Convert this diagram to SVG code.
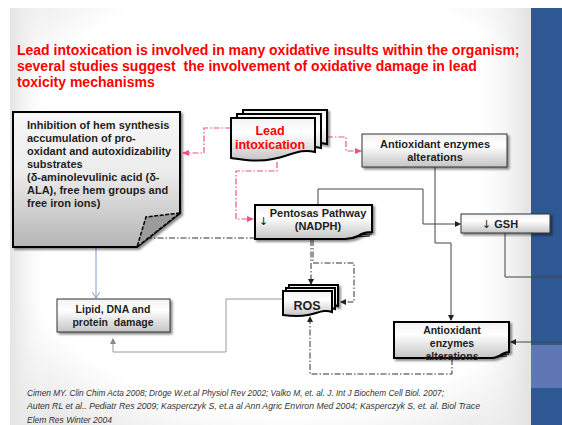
<svg xmlns="http://www.w3.org/2000/svg" width="562" height="425" viewBox="0 0 562 425">
<defs>
  <radialGradient id="bg" cx="0.5" cy="0.45" r="0.75">
    <stop offset="0" stop-color="#ffffff"/>
    <stop offset="0.7" stop-color="#ffffff"/>
    <stop offset="1" stop-color="#dcdcdc"/>
  </radialGradient>
  <linearGradient id="edgeR" x1="0" y1="0" x2="1" y2="0">
    <stop offset="0" stop-color="#ffffff" stop-opacity="0"/>
    <stop offset="1" stop-color="#e2e2e2"/>
  </linearGradient>
  <linearGradient id="edgeL" x1="0" y1="0" x2="1" y2="0">
    <stop offset="0" stop-color="#e4e4e4"/>
    <stop offset="1" stop-color="#ffffff" stop-opacity="0"/>
  </linearGradient>
  <linearGradient id="box" x1="0" y1="0" x2="0" y2="1">
    <stop offset="0" stop-color="#f2f2f2"/>
    <stop offset="0.35" stop-color="#ffffff"/>
    <stop offset="1" stop-color="#c4c4c4"/>
  </linearGradient>
  <linearGradient id="note" x1="0" y1="0" x2="0" y2="1">
    <stop offset="0" stop-color="#f7f7f7"/>
    <stop offset="0.45" stop-color="#ececec"/>
    <stop offset="1" stop-color="#b4b4b4"/>
  </linearGradient>
  <filter id="sh" x="-10%" y="-10%" width="130%" height="140%">
    <feDropShadow dx="2" dy="2" stdDeviation="1" flood-color="#000" flood-opacity="0.45"/>
  </filter>
  <marker id="aDark" markerWidth="6" markerHeight="6" refX="5" refY="3" orient="auto" markerUnits="userSpaceOnUse">
    <path d="M0,0 L6,3 L0,6 Z" fill="#222"/>
  </marker>
  <marker id="aPink" markerWidth="7" markerHeight="6" refX="6" refY="3" orient="auto" markerUnits="userSpaceOnUse">
    <path d="M0,0 L7,3 L0,6 Z" fill="#f0508a"/>
  </marker>
  <marker id="aGray" markerWidth="6" markerHeight="6" refX="5" refY="3" orient="auto" markerUnits="userSpaceOnUse">
    <path d="M0,0 L6,3 L0,6 Z" fill="#888"/>
  </marker>
  <marker id="aBlue" markerWidth="7" markerHeight="8" refX="6" refY="4" orient="auto" markerUnits="userSpaceOnUse">
    <path d="M0,0 L6,4 L0,8" fill="none" stroke="#7f9bd6" stroke-width="1"/>
  </marker>
  <style>
    .t { font-family: "Liberation Sans", Arial, sans-serif; font-weight: bold; fill: #1e1e1e; }
    .arr { font-family: "DejaVu Sans", sans-serif; font-weight: normal; font-size: 11px; }
    .title { font-family: "Liberation Sans", Arial, sans-serif; font-weight: bold; font-size: 14px; fill: #ff0000; }
    .red { font-family: "Liberation Sans", Arial, sans-serif; font-weight: bold; font-size: 12.5px; fill: #ff0000; }
    .cit { font-family: "Liberation Sans", Arial, sans-serif; font-style: italic; font-size: 8.5px; fill: #333; }
    .thick { stroke: #000; stroke-width: 2; }
    .thin { stroke: #333; stroke-width: 1; }
    .pink { fill: none; stroke: #f0508a; stroke-width: 1.2; stroke-dasharray: 6 2 1.5 2; }
    .dd { fill: none; stroke: #333; stroke-width: 1; stroke-dasharray: 6 2 1.5 2; }
    .solid { fill: none; stroke: #444; stroke-width: 1; }
  </style>
</defs>

<!-- slide background -->
<rect x="0" y="0" width="562" height="425" fill="#ffffff"/>
<rect x="10" y="8" width="552" height="417" fill="url(#bg)"/>
<rect x="10" y="8" width="40" height="417" fill="url(#edgeL)"/>
<rect x="470" y="8" width="61" height="417" fill="url(#edgeR)"/>
<!-- blue side bar -->
<rect x="531" y="8" width="31" height="417" fill="#2d5894"/>
<rect x="531" y="345" width="31" height="43" fill="#5f77b4"/>

<!-- title -->
<g id="title">
  <text class="title" x="17" y="55">Lead intoxication is involved in many oxidative insults within the organism;</text>
  <text class="title" x="17" y="71" style="white-space:pre">several studies suggest  the involvement of oxidative damage in lead</text>
  <text class="title" x="17" y="87">toxicity mechanisms</text>
</g>

<!-- connectors -->
<g id="connectors">
  <path class="pink" d="M231,128 H204 V153 H183" marker-end="url(#aPink)"/>
  <path class="pink" d="M327,137 H346 V151 H361" marker-end="url(#aPink)"/>
  <path class="pink" d="M277,162 V171 H236 V219 H253" marker-end="url(#aPink)"/>
  <path class="dd" d="M146,238 H255"/>
  <path class="solid" d="M318,205 V189 H423 V224 H460" marker-end="url(#aDark)"/>
  <path class="solid" d="M435,167 V243 H451 V320" marker-end="url(#aDark)"/>
  <path class="solid" d="M505,233 V277 H575 V342 H511" marker-end="url(#aDark)"/>
  <path class="dd" d="M311,240 V284" marker-end="url(#aDark)"/>
  <path class="dd" d="M313,240 V263 H354 V302 H341" marker-end="url(#aDark)"/>
  <path class="dd" d="M452,359 V374 H310 V317" marker-end="url(#aDark)"/>
  <path d="M283,299 H226 V352 H113 V339" fill="none" stroke="#999" stroke-width="1" marker-end="url(#aGray)"/>
  <path d="M96,248 V298" fill="none" stroke="#7f9bd6" stroke-width="1" marker-end="url(#aBlue)"/>
</g>

<!-- Inhibition note -->
<g id="note-inhibition">
  <path d="M13,112 H180 V213 L137,247 H13 Z" fill="url(#note)" class="thick" filter="url(#sh)"/>
  <path d="M180,213 L146,217 L137,247 Z" fill="#9c9c9c" stroke="#000" stroke-width="1.5" stroke-dasharray="4 1.5"/>
  <text class="t" font-size="11">
    <tspan x="27" y="129">Inhibition of hem synthesis</tspan>
    <tspan x="27" y="142">accumulation of pro-</tspan>
    <tspan x="27" y="155">oxidant and autoxidizability</tspan>
    <tspan x="27" y="168">substrates</tspan>
    <tspan x="27" y="181">(δ-aminolevulinic acid (δ-</tspan>
    <tspan x="27" y="194">ALA), free hem groups and</tspan>
    <tspan x="27" y="207">free iron ions)</tspan>
  </text>
</g>

<!-- Lead intoxication (stacked documents) -->
<g id="node-lead">
  <path d="M243,110 H327 V144 C312,140 302,148 285,151 C270,154 257,152 243,150 Z" fill="url(#box)" class="thick" filter="url(#sh)"/>
  <path d="M237,114 H321 V148 C306,144 296,152 279,155 C264,158 251,156 237,154 Z" fill="url(#box)" class="thick"/>
  <path d="M231,118 H315 V152 C300,148 290,156 273,159 C258,162 245,160 231,158 Z" fill="url(#box)" class="thick"/>
  <text class="red" text-anchor="middle" x="270" y="135">Lead</text>
  <text class="red" text-anchor="middle" x="270" y="149">intoxication</text>
</g>

<!-- Antioxidant enzymes alterations (top) -->
<g id="node-antiox-top">
  <rect x="362" y="134" width="145" height="33" fill="url(#box)" class="thin" filter="url(#sh)"/>
  <text class="t" font-size="11" text-anchor="middle" x="435" y="148">Antioxidant enzymes</text>
  <text class="t" font-size="11" text-anchor="middle" x="435" y="161">alterations</text>
</g>

<!-- Pentosas Pathway -->
<g id="node-pentosas">
  <path d="M255,205 H372 V232 C366,232 362,233 358,236 C354,238 350,239 345,239 H255 Z" fill="url(#box)" class="thick" filter="url(#sh)"/>
  <path d="M358,236 C362,234 366,234 372,234 M352,238 C358,236 364,236 370,236" fill="none" stroke="#000" stroke-width="1.2"/>
  <text class="t arr" x="259" y="225">↓</text>
  <text class="t" font-size="11" text-anchor="middle" x="318" y="217">Pentosas Pathway</text>
  <text class="t" font-size="11" text-anchor="middle" x="318" y="230">(NADPH)</text>
</g>

<!-- GSH -->
<g id="node-gsh">
  <rect x="461" y="214" width="89" height="19" fill="url(#box)" class="thin" filter="url(#sh)"/>
  <text class="t" font-size="11" x="482" y="228"><tspan class="arr">↓</tspan> GSH</text>
</g>

<!-- ROS (stacked documents) -->
<g id="node-ros">
  <path d="M289,285 H338 V306 C330,303 324,307 314,309 C304,311 296,310 289,309 Z" fill="url(#box)" class="thick" filter="url(#sh)"/>
  <path d="M286,288 H335 V309 C327,306 321,310 311,312 C301,314 293,313 286,312 Z" fill="url(#box)" class="thick"/>
  <path d="M283,291 H332 V312 C324,309 318,313 308,315 C298,317 290,316 283,315 Z" fill="url(#box)" class="thick"/>
  <text class="t" font-size="12.5" text-anchor="middle" x="307" y="310">ROS</text>
</g>

<!-- Lipid, DNA and protein damage -->
<g id="node-lipid">
  <rect x="57" y="299" width="113" height="33" fill="url(#box)" class="thin" filter="url(#sh)"/>
  <text class="t" font-size="10.5" text-anchor="middle" x="113" y="313">Lipid, DNA and</text>
  <text class="t" font-size="10.5" text-anchor="middle" x="113" y="326" style="white-space:pre">protein  damage</text>
</g>

<!-- Antioxidant enzymes alterations (bottom) -->
<g id="node-antiox-bottom">
  <path d="M394,322 H509 V352 C505,352 502,354 499,356 C497,357 495,358 492,358 H394 Z" fill="url(#box)" class="thick" filter="url(#sh)"/>
  <path d="M498,357 C502,355 505,354 509,354 M493,358 C499,356 503,356 507,356" fill="none" stroke="#000" stroke-width="1.2"/>
  <text class="t" font-size="10.5" text-anchor="middle" x="452" y="334">Antioxidant</text>
  <text class="t" font-size="10.5" text-anchor="middle" x="452" y="347">enzymes</text>
  <text class="t" font-size="10.5" text-anchor="middle" x="452" y="360">alterations</text>
</g>

<!-- citations -->
<g id="citations">
  <text class="cit" x="27" y="396" textLength="417" lengthAdjust="spacingAndGlyphs">Cimen MY. Clin Chim Acta 2008; Dröge W.et.al Physiol Rev  2002; Valko M, et. al.  J. Int J Biochem Cell Biol. 2007;</text>
  <text class="cit" x="27" y="409" textLength="453" lengthAdjust="spacingAndGlyphs">Auten RL et al.. Pediatr Res 2009; Kasperczyk S,  et.a al Ann Agric Environ Med  2004; Kasperczyk S, et. al.  Biol Trace</text>
  <text class="cit" x="27" y="423">Elem Res Winter 2004</text>
</g>
</svg>
